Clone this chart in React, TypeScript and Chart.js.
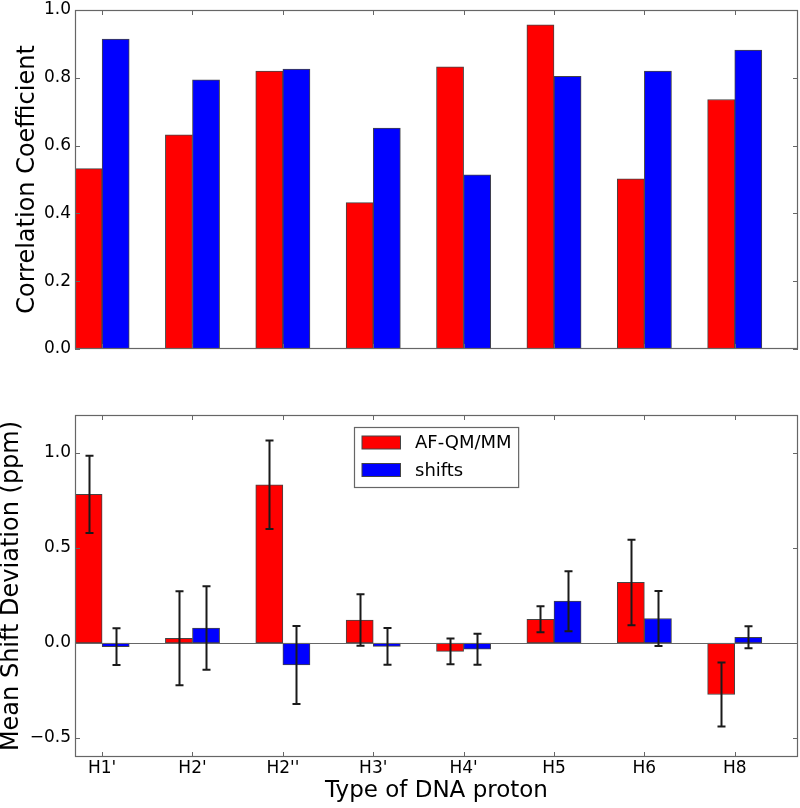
import React, { useEffect, useRef } from "react";
import { Chart, registerables } from "chart.js";

Chart.register(...registerables);

// ---------- data ----------
const categories = ["H1'", "H2'", "H2''", "H3'", "H4'", "H5", "H6", "H8"];
const seriesNames = ["AF-QM/MM", "shifts"];

const corrQMMM = [0.532, 0.632, 0.82, 0.432, 0.832, 0.956, 0.502, 0.736];
const corrShifts = [0.914, 0.794, 0.826, 0.652, 0.514, 0.804, 0.82, 0.882];

const devQMMM = [0.782, 0.025, 0.833, 0.121, -0.044, 0.125, 0.319, -0.271];
const errQMMM = [0.203, 0.247, 0.233, 0.136, 0.068, 0.069, 0.225, 0.169];
const devShifts = [-0.019, 0.079, -0.116, -0.018, -0.033, 0.22, 0.129, 0.03];
const errShifts = [0.097, 0.22, 0.205, 0.097, 0.082, 0.158, 0.145, 0.058];

const topYTicks = [0, 0.2, 0.4, 0.6, 0.8, 1.0];
const bottomYTicks = [-0.5, 0, 0.5, 1.0];

// bar layout in category units (matplotlib: width 0.3, ticks at i + width)
const barWidth = 0.3;

const RED = "#ff0000";
const BLUE = "#0000ff";
const EDGE = "#444444";
const FRAME = "#666666";
const FONT = "'DejaVu Sans', 'Liberation Sans', sans-serif";

const fmt = (v: number) =>
  v < 0 ? "\u2212" + Math.abs(v).toFixed(1) : v.toFixed(1);

const toPoints = (vals: number[], off: number) =>
  vals.map((v, i) => ({ x: i + off, y: v }));

// ---------- plugins ----------
const framePlugin = {
  id: "frameTicks",
  afterDraw(chart: any, _args: any, opts: any) {
    const { ctx, chartArea } = chart;
    const { left, right, top, bottom } = chartArea;
    const xs = chart.scales.x;
    const ys = chart.scales.y;
    ctx.save();
    // zero line
    if (opts.zeroLine) {
      const y0 = Math.round(ys.getPixelForValue(0)) + 0.5;
      ctx.strokeStyle = FRAME;
      ctx.lineWidth = 1.2;
      ctx.beginPath();
      ctx.moveTo(left, y0);
      ctx.lineTo(right, y0);
      ctx.stroke();
    }
    // error bars
    if (opts.errors) {
      ctx.strokeStyle = "#1a1a1a";
      ctx.lineWidth = 2;
      chart.data.datasets.forEach((ds: any, di: number) => {
        const errs = opts.errors[di];
        if (!errs) return;
        const meta = chart.getDatasetMeta(di);
        meta.data.forEach((bar: any, i: number) => {
          const v = ds.data[i].y;
          const e = errs[i];
          const x = Math.round(bar.x) + 0.5;
          const yTop = ys.getPixelForValue(v + e);
          const yBot = ys.getPixelForValue(v - e);
          ctx.beginPath();
          ctx.moveTo(x, yTop);
          ctx.lineTo(x, yBot);
          ctx.moveTo(x - 4, yTop);
          ctx.lineTo(x + 4, yTop);
          ctx.moveTo(x - 4, yBot);
          ctx.lineTo(x + 4, yBot);
          ctx.stroke();
        });
      });
    }
    // frame
    ctx.strokeStyle = FRAME;
    ctx.lineWidth = 1.2;
    ctx.strokeRect(left + 0.5, top + 0.5, right - left - 1, bottom - top - 1);
    // inward ticks
    ctx.lineWidth = 1;
    const tl = 5;
    ctx.beginPath();
    xs.ticks.forEach((t: any) => {
      const x = Math.round(xs.getPixelForValue(t.value)) + 0.5;
      ctx.moveTo(x, bottom);
      ctx.lineTo(x, bottom - tl);
      ctx.moveTo(x, top);
      ctx.lineTo(x, top + tl);
    });
    ys.ticks.forEach((t: any) => {
      const y = Math.round(ys.getPixelForValue(t.value)) + 0.5;
      ctx.moveTo(left, y);
      ctx.lineTo(left + tl, y);
      ctx.moveTo(right, y);
      ctx.lineTo(right - tl, y);
    });
    ctx.stroke();
    // legend
    if (opts.legend) {
      ctx.font = `18px ${FONT}`;
      const names = chart.data.datasets.map((d: any) => d.label);
      const maxW = Math.max(...names.map((n: string) => ctx.measureText(n).width));
      const boxW = 7.5 + 38.5 + 14.5 + maxW + 7;
      const boxH = 60;
      const bx = Math.round((left + right) / 2 - boxW / 2) + 0.5;
      const by = top + 12 + 0.5;
      ctx.fillStyle = "#ffffff";
      ctx.fillRect(bx, by, boxW, boxH);
      ctx.strokeStyle = FRAME;
      ctx.lineWidth = 1.2;
      ctx.strokeRect(bx, by, boxW, boxH);
      chart.data.datasets.forEach((d: any, i: number) => {
        const cy = by + 15 + i * 27.5;
        ctx.fillStyle = d.backgroundColor;
        ctx.fillRect(bx + 7.5, cy - 6.5, 38.5, 13);
        ctx.strokeStyle = EDGE;
        ctx.lineWidth = 1;
        ctx.strokeRect(bx + 7.5, cy - 6.5, 38.5, 13);
        ctx.fillStyle = "#000";
        ctx.textBaseline = "middle";
        ctx.textAlign = "left";
        ctx.fillText(d.label, bx + 60.5, cy + 1);
      });
    }
    ctx.restore();
  },
};

function makeDatasets(a: number[], b: number[]) {
  const common = {
    grouped: false,
    categoryPercentage: 1,
    barPercentage: 1,
    borderWidth: 1,
    borderColor: EDGE,
    borderSkipped: false as any,
  };
  return [
    { label: seriesNames[0], data: toPoints(a, barWidth / 2), backgroundColor: RED, ...common },
    { label: seriesNames[1], data: toPoints(b, barWidth * 1.5), backgroundColor: BLUE, ...common },
  ];
}

function xScale(showLabels: boolean, title?: string) {
  return {
    type: "linear" as const,
    min: 0,
    max: categories.length,
    offset: false,
    grid: { display: false, drawTicks: false, offset: false },
    border: { display: false },
    afterBuildTicks: (s: any) => {
      s.ticks = categories.map((_, i) => ({ value: i + barWidth }));
    },
    ticks: {
      display: showLabels,
      autoSkip: false,
      maxRotation: 0,
      padding: 1,
      color: "#000",
      font: { family: FONT, size: 17, lineHeight: 1.2 },
      callback: (_v: any, i: number) => categories[i],
    },
    title: title
      ? {
          display: true,
          text: title,
          color: "#000",
          font: { family: FONT, size: 23, lineHeight: 1 },
          padding: { top: 0, bottom: 5.5 },
        }
      : { display: false },
    afterFit: (s: any) => {
      s.height = showLabels ? 51 : 0;
      s.paddingLeft = 0;
      s.paddingRight = 0;
    },
  };
}

function yScale(min: number, max: number, ticks: number[], title: string, titlePad: number) {
  return {
    min,
    max,
    grid: { display: false, drawTicks: false },
    border: { display: false },
    afterBuildTicks: (s: any) => {
      s.ticks = ticks.map((v) => ({ value: v }));
    },
    ticks: {
      padding: 4,
      color: "#000",
      font: { family: FONT, size: 17 },
      callback: (v: any) => fmt(Number(v)),
    },
    title: {
      display: true,
      text: title,
      color: "#000",
      font: { family: FONT, size: 24, lineHeight: 1 },
      padding: { top: titlePad, bottom: 0 },
    },
    afterFit: (s: any) => {
      s.width = 75;
      s.paddingTop = 0;
      s.paddingBottom = 0;
    },
  };
}

export default function App() {
  const topRef = useRef<HTMLCanvasElement>(null);
  const botRef = useRef<HTMLCanvasElement>(null);

  useEffect(() => {
    const top = new Chart(topRef.current!, {
      type: "bar",
      data: { datasets: makeDatasets(corrQMMM, corrShifts) as any },
      options: {
        animation: false,
        responsive: false,
        layout: { padding: { left: 0, right: 2, top: 10, bottom: 31 } },
        plugins: { legend: { display: false }, tooltip: { enabled: false }, frameTicks: {} } as any,
        scales: {
          x: xScale(false) as any,
          y: yScale(0, 1, topYTicks, "Correlation Coefficient", 16) as any,
        },
      },
      plugins: [framePlugin],
    });
    const bot = new Chart(botRef.current!, {
      type: "bar",
      data: { datasets: makeDatasets(devQMMM, devShifts) as any },
      options: {
        animation: false,
        responsive: false,
        layout: { padding: { left: 0, right: 2, top: 35, bottom: 0 } },
        plugins: {
          legend: { display: false },
          tooltip: { enabled: false },
          frameTicks: { zeroLine: true, errors: [errQMMM, errShifts], legend: true },
        } as any,
        scales: {
          x: xScale(true, "Type of DNA proton") as any,
          y: yScale(-0.6, 1.2, bottomYTicks, "Mean Shift Deviation (ppm)", 0) as any,
        },
      },
      plugins: [framePlugin],
    });
    return () => {
      top.destroy();
      bot.destroy();
    };
  }, []);

  return (
    <div style={{ position: "absolute", left: 0, top: 0, width: 800, height: 808, background: "#fff" }}>
      <canvas ref={topRef} width={800} height={380} style={{ display: "block" }} />
      <canvas ref={botRef} width={800} height={428} style={{ display: "block" }} />
    </div>
  );
}
